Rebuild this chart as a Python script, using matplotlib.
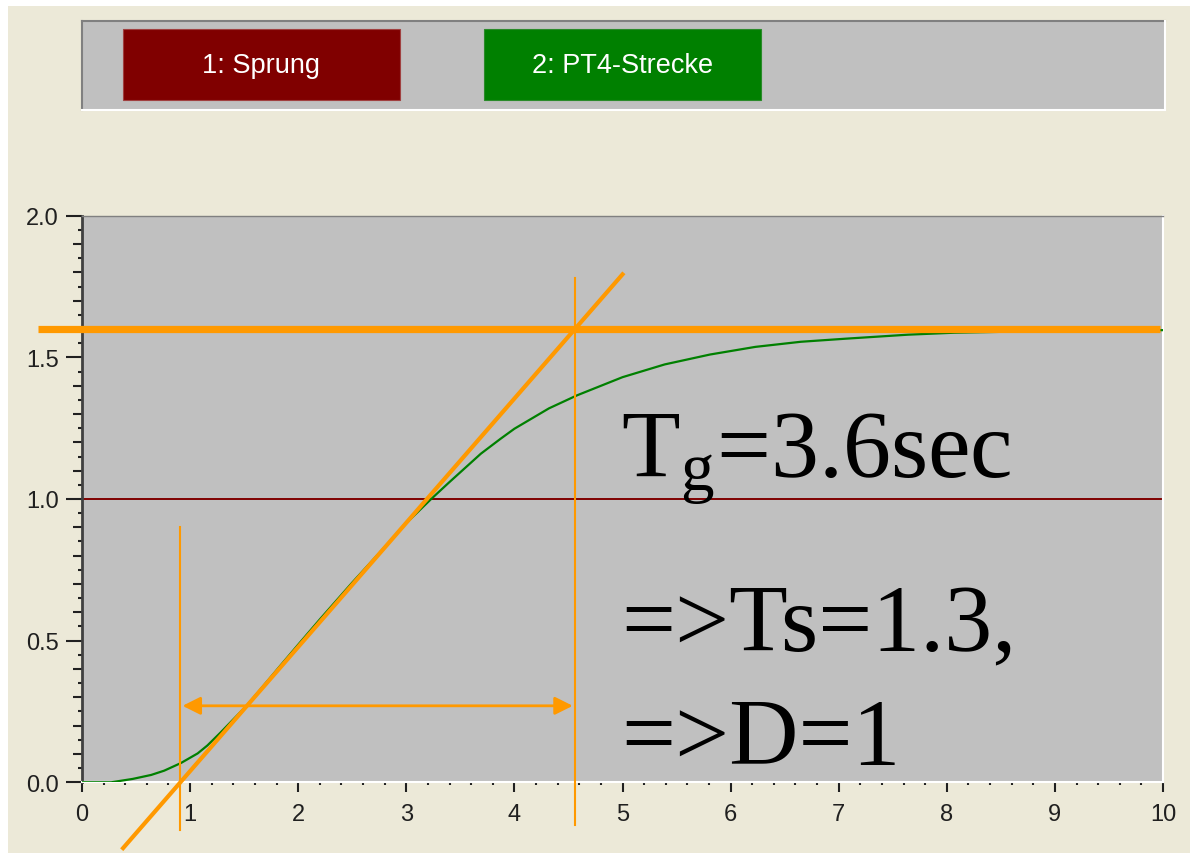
import matplotlib.pyplot as plt
import numpy as np
from matplotlib.patches import Rectangle
from matplotlib.lines import Line2D
from matplotlib.ticker import MultipleLocator, FormatStrFormatter

plt.rcParams['mathtext.default'] = 'regular'

# Sprungantwort der PT4-Strecke
t_pt4 = [0.0, 0.27, 0.47, 0.64, 0.76, 0.915, 1.07, 1.16, 1.28, 1.53, 1.84, 2.0,
         2.2, 2.5, 2.8, 3.0, 3.23, 3.4, 3.69, 3.87, 4.0, 4.32, 4.58, 5.0, 5.39,
         5.81, 6.23, 6.65, 7.07, 7.64, 8.07, 8.79, 10.0]
y_pt4 = [0.0, 0.0, 0.012, 0.026, 0.041, 0.068, 0.102, 0.13, 0.175, 0.273, 0.414, 0.486,
         0.575, 0.705, 0.83, 0.915, 1.0, 1.06, 1.16, 1.212, 1.248, 1.32, 1.366, 1.43, 1.475,
         1.51, 1.537, 1.555, 1.566, 1.58, 1.587, 1.592, 1.596]

# Eingangssprung
t_step = [0.0, 10.0]
y_step = [1.0, 1.0]

# Wendetangente
K = 1.6          # Endwert
t_u = 0.91       # Schnitt der Tangente mit der Nulllinie
t_g_end = 4.56   # Schnitt der Tangente mit dem Endwert
arrow_y = 0.27

legend_names = ['1: Sprung', '2: PT4-Strecke']
legend_colors = ['#800000', '#008000']

BG = '#ECE9D8'
PLOT_BG = '#C0C0C0'
ORANGE = '#FF9900'

W, H = 1190, 854
fig = plt.figure(figsize=(W / 100, H / 100), dpi=100)
fig.patch.set_facecolor('white')
fig.patches.append(Rectangle((8 / W, 0), 1 - 8 / W, 1 - 7 / H, transform=fig.transFigure,
                             facecolor=BG, edgecolor='none', zorder=-10))

# Legendenleiste oben
px, py, pw, ph = 82, 22, 1083, 89
fig.patches.append(Rectangle((px / W, 1 - (py + ph) / H), pw / W, ph / H,
                             transform=fig.transFigure, facecolor=PLOT_BG,
                             edgecolor='none', zorder=-5))
for (x0, y0, x1, y1, c) in [(px, py, px + pw, py, '#808080'), (px, py, px, py + ph, '#808080'),
                            (px, py + ph, px + pw, py + ph, 'white'),
                            (px + pw, py, px + pw, py + ph, 'white')]:
    fig.lines.append(Line2D([x0 / W, x1 / W], [1 - y0 / H, 1 - y1 / H],
                            transform=fig.transFigure, color=c, lw=1.5))

box_left = [123, 484]
for name, col, bx in zip(legend_names, legend_colors, box_left):
    fig.patches.append(Rectangle((bx / W, 1 - 101 / H), 277 / W, 71 / H,
                                 transform=fig.transFigure, facecolor=col,
                                 edgecolor='#A04040' if col == '#800000' else '#2A8A2A',
                                 lw=0.8, zorder=-4))
    fig.text((bx + 138.5) / W, 1 - 66 / H, name, color='white', fontsize=19.5,
             family='Liberation Sans', ha='center', va='center')

# Diagramm
ax = fig.add_axes([82 / W, 1 - 783.3 / H, 1081 / W, 566.6 / H])
ax.set_facecolor(PLOT_BG)
ax.set_xlim(0, 10)
ax.set_ylim(0, 2.0)

ax.plot(t_step, y_step, color='#800000', lw=1.4, zorder=2)
ax.plot(t_pt4, y_pt4, color='#008000', lw=1.6, zorder=3)

# Endwert, Tangente und Hilfslinien
ax.plot([-0.41, 9.97], [K, K], color=ORANGE, lw=5.2, clip_on=False, zorder=4,
        solid_capstyle='butt')
t_tan = np.array([0.38, 5.0])
ax.plot(t_tan, K * (t_tan - t_u) / (t_g_end - t_u), color=ORANGE, lw=3.0,
        clip_on=False, zorder=4)
ax.plot([t_u, t_u], [-0.17, 0.90], color=ORANGE, lw=1.5, clip_on=False, zorder=4)
ax.plot([t_g_end, t_g_end], [-0.15, 1.78], color=ORANGE, lw=1.5, clip_on=False, zorder=4)
ax.annotate('', xy=(t_u + 0.02, arrow_y), xytext=(t_g_end - 0.02, arrow_y),
            arrowprops=dict(arrowstyle='<|-|>,head_length=0.5,head_width=0.25',
                            color=ORANGE, lw=2.0, mutation_scale=21.6,
                            shrinkA=0, shrinkB=0), zorder=4)

txt = dict(family='Liberation Serif', fontsize=69, color='black',
           ha='left', va='baseline', zorder=5)
ax.text(4.99, 1.079, r'$\mathregular{T_g}$=3.6sec', **txt)
ax.text(4.99, 0.464, '=>Ts=1.3,', **txt)
ax.text(4.99, 0.065, '=>D=1', **txt)

# Achsen
ax.spines['left'].set_color('#404040')
ax.spines['left'].set_linewidth(2.0)
ax.spines['bottom'].set_color('white')
ax.spines['bottom'].set_linewidth(1.5)
ax.spines['right'].set_color('white')
ax.spines['right'].set_linewidth(1.5)
ax.spines['top'].set_color('#808080')
ax.spines['top'].set_linewidth(1.0)

ax.xaxis.set_major_locator(MultipleLocator(1))
ax.xaxis.set_minor_locator(MultipleLocator(0.2))
ax.yaxis.set_major_locator(MultipleLocator(0.5))
ax.yaxis.set_minor_locator(MultipleLocator(0.1))
ax.yaxis.set_major_formatter(FormatStrFormatter('%.1f'))

ax.tick_params(axis='x', which='major', direction='out', length=7, width=1.5,
               color='#202020', pad=8, labelsize=17, labelcolor='#202020')
ax.tick_params(axis='x', which='minor', direction='out', length=2, width=1.5,
               color='#202020')
ax.tick_params(axis='y', which='major', direction='out', length=11.5, width=1.5,
               color='#202020', pad=5, labelsize=17, labelcolor='#202020')
ax.tick_params(axis='y', which='minor', direction='out', length=6.5, width=1.5,
               color='#202020')
for lab in ax.get_xticklabels() + ax.get_yticklabels():
    lab.set_family('Liberation Sans')

# feine Punkte zwischen den Zehntelstrichen
sec = ax.secondary_yaxis('left')
sec.spines['left'].set_visible(False)
sec.set_yticks(np.arange(0.05, 2.0, 0.1))
sec.tick_params(axis='y', length=3, width=1.5, color='#202020', labelleft=False)

fig.savefig('out.png', dpi=100, facecolor=fig.get_facecolor())
